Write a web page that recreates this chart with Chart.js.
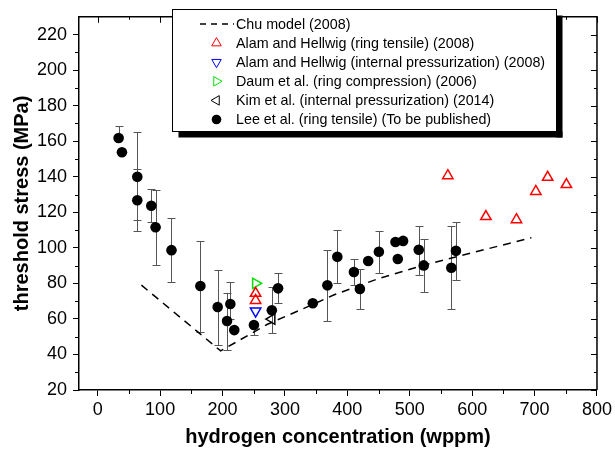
<!DOCTYPE html>
<html>
<head>
<meta charset="utf-8">
<script src="https://cdn.jsdelivr.net/npm/chart.js@4.4.1/dist/chart.umd.min.js"></script>
<style>
  html, body { margin: 0; padding: 0; background: #fff; }
</style>
</head>
<body>
<canvas id="chart" width="615" height="450"></canvas>
<script>
// tick values
const xTicks = [0, 100, 200, 300, 400, 500, 600, 700, 800];
const yTicks = [20, 40, 60, 80, 100, 120, 140, 160, 180, 200, 220];

// Chu model (2008)
const chuX = [70, 197, 272, 344, 379, 450, 520, 602, 695];
const chuY = [79, 42, 57, 68, 73.6, 82.7, 90, 97.4, 105.7];

// Alam and Hellwig (ring tensile)
const alamRingX = [253, 253, 561, 622, 671, 702, 721, 751];
const alamRingY = [74.4, 70.4, 140.6, 117.6, 115.8, 131.7, 139.7, 135.6];

// Alam and Hellwig (internal pressurization)
const alamPressX = [253];
const alamPressY = [64.4];

// Daum et al. (ring compression)
const daumX = [253];
const daumY = [80];

// Kim et al. (internal pressurization)
const kimX = [279];
const kimY = [59.9];

// Lee et al. (ring tensile), with error bar ends (null = none)
const leeX  = [33.5, 38.8, 63.4, 63.4, 85.8, 92.7, 118.2, 164.5, 192.2, 207.2, 212.5, 218.8, 250.3, 279, 289,
               344.6, 368, 383.9, 410.5, 420.1, 433.4, 450.5, 477.1, 480.8, 489.3, 514.4, 522.4, 566.6, 574];
const leeY  = [161.8, 153.8, 140, 126.8, 123.7, 111.6, 98.7, 78.5, 66.7, 58.8, 68.4, 53.7, 56.6, 64.9, 77.2,
               68.8, 78.9, 95, 86.4, 76.9, 92.6, 97.8, 103.3, 93.7, 103.9, 98.9, 90.1, 88.8, 98.3];
const leeHi = [168.6, null, 165, 144.6, 133.2, 132.3, 116.7, 103.8, 87.3, 74.4, 80.9, null, null, 78.1, 85.8,
               null, 98.9, 109.9, 93.7, 87.9, null, 109.4, null, null, null, 112.5, 104.7, 112.1, 114.3];
const leeLo = [null, null, 115.4, 109.4, 114.5, 90.6, 80.9, 52.8, 45.5, 42.3, 60, null, 51, 52.1, 68.9,
               null, 58.8, 80, 79, 65.3, null, 85.8, null, null, null, 84.9, 75, 65.3, 81.8];

const legendLabels = [
    'Chu model (2008)',
    'Alam and Hellwig (ring tensile) (2008)',
    'Alam and Hellwig (internal pressurization) (2008)',
    'Daum et al. (ring compression) (2006)',
    'Kim et al. (internal pressurization) (2014)',
    'Lee et al. (ring tensile) (To be published)'
];

const FONT = "'Liberation Sans', Arial, sans-serif";
const toXY = (xs, ys) => xs.map((v, i) => ({ x: v, y: ys[i] }));

function markerSet(label, xs, ys, color, rotation) {
    return {
        type: 'scatter',
        label: label,
        data: toXY(xs, ys),
        pointStyle: 'triangle',
        rotation: rotation,
        radius: 6,
        borderWidth: 1.5,
        borderColor: color,
        backgroundColor: 'rgba(0,0,0,0)'
    };
}

// error bars, frame, minor ticks, boxed legend
const decorPlugin = {
    id: 'decor',
    beforeDatasetsDraw(chart) {
        const { ctx, scales: { x, y } } = chart;
        ctx.save();
        ctx.strokeStyle = '#555';
        ctx.lineWidth = 1;
        leeX.forEach((v, i) => {
            const px = Math.round(x.getPixelForValue(v)) + 0.5;
            const py = y.getPixelForValue(leeY[i]);
            [leeHi[i], leeLo[i]].forEach(e => {
                if (e === null) return;
                const pe = Math.round(y.getPixelForValue(e)) + 0.5;
                ctx.beginPath();
                ctx.moveTo(px, py);
                ctx.lineTo(px, pe);
                ctx.moveTo(px - 4, pe);
                ctx.lineTo(px + 4, pe);
                ctx.stroke();
            });
        });
        ctx.restore();
    },
    afterDatasetsDraw(chart) {
        const { ctx, chartArea: a, scales: { x, y } } = chart;
        ctx.save();
        ctx.strokeStyle = '#000';
        ctx.lineWidth = 1.5;
        ctx.beginPath();
        ctx.moveTo(a.left, a.top);
        ctx.lineTo(a.right, a.top);
        ctx.lineTo(a.right, a.bottom);
        ctx.stroke();

        ctx.lineWidth = 1;
        ctx.beginPath();
        // x: majors on top (inward), minors top and bottom
        xTicks.forEach((v, i) => {
            const px = Math.round(x.getPixelForValue(v)) + 0.5;
            ctx.moveTo(px, a.top); ctx.lineTo(px, a.top + 6);
            if (i < xTicks.length - 1) {
                const pm = Math.round(x.getPixelForValue((v + xTicks[i + 1]) / 2)) + 0.5;
                ctx.moveTo(pm, a.top); ctx.lineTo(pm, a.top + 3);
                ctx.moveTo(pm, a.bottom); ctx.lineTo(pm, a.bottom + 4);
            }
        });
        // y: majors on right (inward), minors left and right
        yTicks.forEach((v, i) => {
            const py = Math.round(y.getPixelForValue(v)) + 0.5;
            ctx.moveTo(a.right, py); ctx.lineTo(a.right - 6, py);
            const next = i < yTicks.length - 1 ? yTicks[i + 1] : v + 20;
            const mid = (v + next) / 2;
            if (mid < y.max) {
                const pm = Math.round(y.getPixelForValue(mid)) + 0.5;
                ctx.moveTo(a.right, pm); ctx.lineTo(a.right - 3, pm);
                ctx.moveTo(a.left, pm); ctx.lineTo(a.left - 4, pm);
            }
        });
        ctx.stroke();

        // legend box with shadow
        const bx = 172.5, by = 9.5, bw = 384, bh = 122;
        ctx.fillStyle = '#fff';
        ctx.fillRect(bx, by, bw, bh);
        ctx.fillStyle = '#000';
        ctx.fillRect(bx + 6, by + bh, bw, 6);
        ctx.fillRect(bx + bw, by + 6, 6, bh);
        ctx.strokeStyle = '#000';
        ctx.lineWidth = 1;
        ctx.strokeRect(bx, by, bw, bh);

        ctx.font = '14.3px ' + FONT;
        ctx.textBaseline = 'middle';
        ctx.textAlign = 'left';
        legendLabels.forEach((lab, i) => {
            const ly = 24 + i * 19.1;
            const ds = chart.data.datasets[i];
            if (i === 0) {
                ctx.save();
                ctx.strokeStyle = '#000';
                ctx.lineWidth = 1.5;
                ctx.setLineDash([6, 5]);
                ctx.beginPath();
                ctx.moveTo(200, ly);
                ctx.lineTo(234, ly);
                ctx.stroke();
                ctx.restore();
            } else {
                ctx.save();
                ctx.strokeStyle = ds.borderColor;
                ctx.fillStyle = ds.backgroundColor;
                Chart.helpers.drawPoint(ctx, {
                    pointStyle: ds.pointStyle,
                    rotation: ds.rotation || 0,
                    radius: ds.radius - 0.5,
                    borderWidth: ds.borderWidth
                }, 216.5, ly);
                ctx.restore();
            }
            ctx.fillStyle = '#000';
            ctx.fillText(lab, 236, ly + 1);
        });
        ctx.restore();
    }
};

new Chart(document.getElementById('chart'), {
    type: 'scatter',
    data: {
        datasets: [
            {
                type: 'line',
                label: legendLabels[0],
                data: toXY(chuX, chuY),
                borderColor: '#000',
                borderWidth: 1.5,
                borderDash: [8, 6],
                pointRadius: 0,
                fill: false,
                tension: 0
            },
            markerSet(legendLabels[1], alamRingX, alamRingY, '#ff0000', 0),
            markerSet(legendLabels[2], alamPressX, alamPressY, '#0000ff', 180),
            markerSet(legendLabels[3], daumX, daumY, '#00e000', 90),
            markerSet(legendLabels[4], kimX, kimY, '#000000', 270),
            {
                type: 'scatter',
                label: legendLabels[5],
                data: toXY(leeX, leeY),
                pointStyle: 'circle',
                radius: 5.3,
                borderWidth: 0,
                borderColor: '#000',
                backgroundColor: '#000'
            }
        ]
    },
    options: {
        responsive: false,
        animation: false,
        devicePixelRatio: 1,
        layout: { padding: { left: 0, right: 15, top: 9, bottom: 0 } },
        plugins: {
            legend: { display: false },
            tooltip: { enabled: false }
        },
        scales: {
            x: {
                type: 'linear',
                min: -30,
                max: 800,
                afterBuildTicks: (s) => { s.ticks = xTicks.map(v => ({ value: v })); },
                afterFit: (s) => { s.height = 60; },
                grid: { display: true, drawOnChartArea: false, drawTicks: true, tickLength: 6, color: '#000', lineWidth: 1 },
                border: { display: true, color: '#000', width: 1.5 },
                ticks: { color: '#000', padding: 3, maxRotation: 0, font: { family: FONT, size: 18 } },
                title: {
                    display: true,
                    text: 'hydrogen concentration (wppm)',
                    color: '#000',
                    padding: { top: 0, bottom: 1 },
                    font: { family: FONT, size: 20, weight: 'bold' }
                }
            },
            y: {
                type: 'linear',
                min: 20,
                max: 230,
                afterBuildTicks: (s) => { s.ticks = yTicks.map(v => ({ value: v })); },
                afterFit: (s) => { s.width = 79; },
                grid: { display: true, drawOnChartArea: false, drawTicks: true, tickLength: 6, color: '#000', lineWidth: 1 },
                border: { display: true, color: '#000', width: 1.5 },
                ticks: { color: '#000', padding: 6, font: { family: FONT, size: 18 } },
                title: {
                    display: true,
                    text: 'threshold stress (MPa)',
                    color: '#000',
                    padding: { top: 10, bottom: 0 },
                    font: { family: FONT, size: 20, weight: 'bold' }
                }
            }
        }
    },
    plugins: [decorPlugin]
});
</script>
</body>
</html>
